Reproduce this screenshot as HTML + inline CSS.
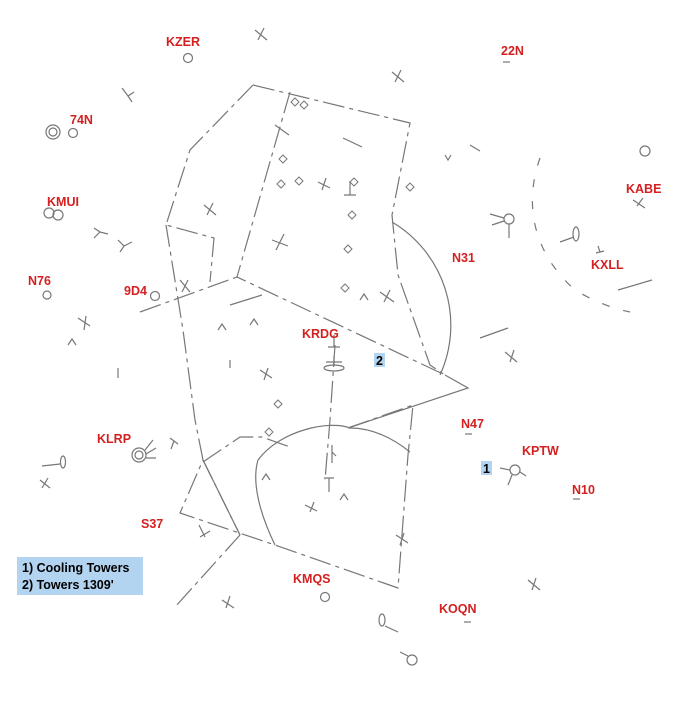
<!DOCTYPE html>
<html><head><meta charset="utf-8"><style>
html,body{margin:0;padding:0;background:#fff}
svg{display:block}
.l{font-family:"Liberation Sans",Arial,sans-serif;font-weight:bold;font-size:12.5px;fill:#d42020}
.k{font-family:"Liberation Sans",Arial,sans-serif;font-weight:bold;font-size:12.5px;fill:#000}
</style></head><body>
<svg width="700" height="709" viewBox="0 0 700 709" xmlns="http://www.w3.org/2000/svg">
<g fill="none" stroke="#777" stroke-width="1.2">
<!-- main boundaries dash-dot -->
<g stroke-dasharray="22,5,4,5">
<polyline points="253,85 410,123 392,215 398,275 430,365 445,375"/>
<polyline points="290,92 237,277 445,375"/>
<polyline points="253,85 190,150 166,225 214,238 210,282"/>
<polyline points="166,225 183,330 195,420 203,460"/>
<polyline points="140,312 237,277"/>
<polyline points="348,428 413,405 408,455 398,588 275,545 180,513 203,460 240,535"/>
<polyline points="203,462 240,437 262,437 290,447"/>
<polyline points="335,345 330,420 325,480"/>
<polyline points="240,535 175,607"/>
</g>
<path d="M392,222 A120,120 0 0 1 440,375"/>
<path d="M275,545 C258,510 252,480 258,460 C280,430 330,420 350,428 C375,428 395,440 410,452"/>
<polyline points="348,428 468,388 445,375"/>
<polyline points="203,460 240,535"/>
<path d="M540,158 C525,200 530,250 575,290 C600,305 620,310 630,312" stroke-dasharray="8,14"/>
<line x1="618" y1="290" x2="652" y2="280"/>
<line x1="480" y1="338" x2="508" y2="328"/>
<line x1="230" y1="305" x2="262" y2="295"/>
<line x1="343" y1="138" x2="362" y2="147"/>
<!-- crosses -->
<g>
<path d="M255,30 l12,10 M258,40 l6,-12"/>
<path d="M392,72 l12,10 M395,82 l6,-12"/>
<path d="M204,205 l12,10 M207,215 l6,-12"/>
<path d="M318,182 l12,6 M322,190 l4,-12"/>
<path d="M272,240 l16,6 M276,250 l8,-16"/>
<path d="M380,292 l14,10 M384,302 l6,-12"/>
<path d="M505,352 l12,10 M510,362 l4,-12"/>
<path d="M260,370 l12,8 M264,380 l4,-12"/>
<path d="M78,318 l12,8 M84,330 l2,-14"/>
<path d="M40,480 l10,8 M42,488 l6,-10"/>
<path d="M222,600 l12,8 M226,608 l4,-12"/>
<path d="M528,580 l12,10 M532,590 l4,-12"/>
<path d="M305,505 l12,6 M310,512 l4,-10"/>
<path d="M180,280 l10,12 M182,292 l6,-12"/>
<path d="M633,200 l12,8 M637,206 l6,-8"/>
<path d="M275,125 l14,10"/>
<path d="M396,535 l12,8 M400,545 l4,-12"/>
</g>
<!-- T marks -->
<path d="M122,88 l6,8 l6,-4 M128,96 l4,6"/>
<path d="M94,228 l6,4 l-6,6 M100,232 l8,2"/>
<path d="M118,240 l6,6 l8,-4 M124,246 l-4,6"/>
<path d="M170,438 l8,6 M174,441 l-3,8"/>
<path d="M199,525 l6,12 M200,537 l10,-6"/>
<path d="M344,195 h12 M350,195 v-14"/>
<path d="M328,347 h12 M334,347 v-12"/>
<path d="M324,478 h10 M329,478 v14"/>
<path d="M332,445 v18 M332,452 l4,4"/>
<path d="M596,253 l8,-2 M600,252 l-2,-6"/>
<path d="M470,145 l10,6"/>
<!-- carets -->
<path d="M218,330 l4,-6 l4,6"/><path d="M250,325 l4,-6 l4,6"/><path d="M230,360 v8"/><path d="M68,345 l4,-6 l4,6"/><path d="M118,368 v10"/>
<path d="M340,500 l4,-6 l4,6"/><path d="M262,480 l4,-6 l4,6"/><path d="M360,300 l4,-6 l4,6"/><path d="M445,155 l3,5 l3,-5"/>
<!-- stars -->
<g stroke-width="1">
<path d="M283,155 l4,4 l-4,4 l-4,-4z"/><path d="M299,177 l4,4 l-4,4 l-4,-4z"/><path d="M281,180 l4,4 l-4,4 l-4,-4z"/>
<path d="M354,178 l4,4 l-4,4 l-4,-4z"/><path d="M352,211 l4,4 l-4,4 l-4,-4z"/><path d="M348,245 l4,4 l-4,4 l-4,-4z"/>
<path d="M410,183 l4,4 l-4,4 l-4,-4z"/><path d="M345,284 l4,4 l-4,4 l-4,-4z"/><path d="M278,400 l4,4 l-4,4 l-4,-4z"/>
<path d="M295,98 l4,4 l-4,4 l-4,-4z"/><path d="M304,101 l4,4 l-4,4 l-4,-4z"/><path d="M269,428 l4,4 l-4,4 l-4,-4z"/>
</g>
<!-- airport symbols -->
<circle cx="188" cy="58" r="4.5"/>
<circle cx="53" cy="132" r="7"/><circle cx="53" cy="132" r="4"/><circle cx="73" cy="133" r="4.5"/>
<circle cx="49" cy="213" r="5"/><circle cx="58" cy="215" r="5"/>
<circle cx="47" cy="295" r="4"/><circle cx="155" cy="296" r="4.5"/>
<circle cx="139" cy="455" r="7"/><circle cx="139" cy="455" r="4"/>
<path d="M145,450 l8,-10 M146,454 l10,-6 M146,458 l10,0"/>
<circle cx="325" cy="597" r="4.5"/>
<circle cx="645" cy="151" r="5"/>
<circle cx="509" cy="219" r="5"/><path d="M504,218 l-14,-4 M504,221 l-12,4 M509,224 v14"/>
<ellipse cx="576" cy="234" rx="3" ry="7"/><line x1="560" y1="242" x2="574" y2="237"/>
<ellipse cx="63" cy="462" rx="2.5" ry="6"/><line x1="42" y1="466" x2="60" y2="464"/>
<ellipse cx="382" cy="620" rx="3" ry="6"/><line x1="385" y1="626" x2="398" y2="632"/>
<circle cx="412" cy="660" r="5"/><line x1="400" y1="652" x2="408" y2="656"/>
<circle cx="515" cy="470" r="5"/><path d="M510,470 l-10,-2 M512,475 l-4,10 M520,472 l6,4"/>
<ellipse cx="334" cy="368" rx="10" ry="3"/><path d="M326,362 h16 M334,356 v10"/>
<line x1="503" y1="62" x2="510" y2="62"/><line x1="465" y1="434" x2="472" y2="434"/>
<line x1="573" y1="499" x2="580" y2="499"/><line x1="464" y1="622" x2="471" y2="622"/>
</g>
<text class="l" x="166" y="46">KZER</text>
<text class="l" x="501" y="55">22N</text>
<text class="l" x="70" y="124">74N</text>
<text class="l" x="47" y="206">KMUI</text>
<text class="l" x="626" y="193">KABE</text>
<text class="l" x="452" y="262">N31</text>
<text class="l" x="591" y="269">KXLL</text>
<text class="l" x="28" y="285">N76</text>
<text class="l" x="124" y="295">9D4</text>
<text class="l" x="302" y="338">KRDG</text>
<text class="l" x="461" y="428">N47</text>
<text class="l" x="97" y="443">KLRP</text>
<text class="l" x="522" y="455">KPTW</text>
<text class="l" x="572" y="494">N10</text>
<text class="l" x="141" y="528">S37</text>
<text class="l" x="293" y="583">KMQS</text>
<text class="l" x="439" y="613">KOQN</text>
<rect x="374" y="353" width="11" height="14" fill="#b3d4f0"/>
<text class="k" x="376" y="365">2</text>
<rect x="481" y="461" width="11" height="14" fill="#b3d4f0"/>
<text class="k" x="483" y="473">1</text>
<rect x="17" y="557" width="126" height="38" fill="#b3d4f0"/>
<text class="k" x="22" y="572">1) Cooling Towers</text>
<text class="k" x="22" y="589">2) Towers 1309'</text>
</svg>
</body></html>
